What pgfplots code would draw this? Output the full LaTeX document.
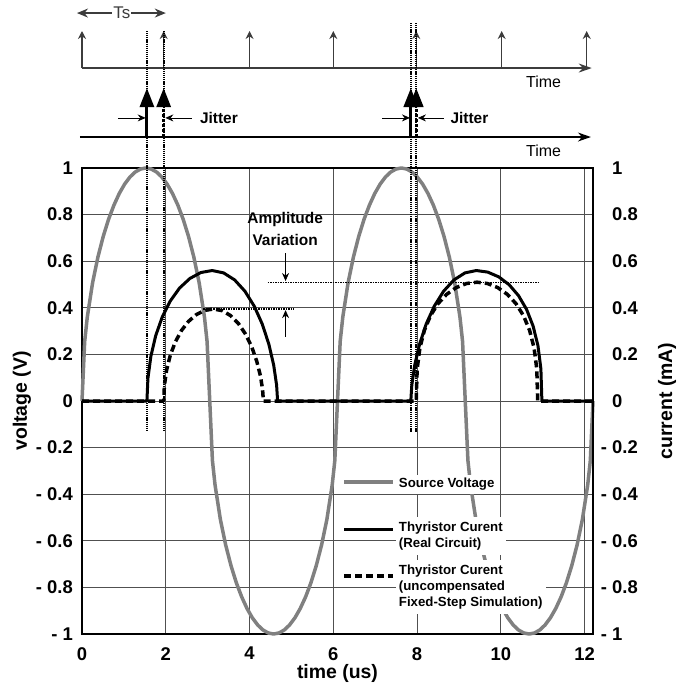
\documentclass[border=0pt]{standalone}
\usepackage{fontspec}
\setmainfont{Liberation Sans}
\usepackage{pgfplots}
\pgfplotsset{compat=1.18}
\usetikzlibrary{arrows.meta}
\definecolor{srcgray}{RGB}{128,128,128}
\definecolor{gridgray}{RGB}{80,80,80}
\definecolor{tlgray}{RGB}{60,60,60}
\newcommand\tickfont{\fontsize{18.5}{20}\selectfont\bfseries}
\newcommand\labfont{\fontsize{19.5}{22}\selectfont\bfseries}
\begin{document}
\begin{tikzpicture}
\begin{axis}[
  at={(82bp,-634bp)}, anchor=south west,
  scale only axis, width=511bp, height=466bp,
  xmin=0, xmax=12.2, ymin=-1, ymax=1,
  clip=false,
  axis line style={line width=1.2bp},
  xtick={0,2,4,6,8,10,12}, xticklabels={0,2,4,6,8,10,12},
  ytick={-1,-0.8,-0.6,-0.4,-0.2,0,0.2,0.4,0.6,0.8,1},
  yticklabels={- 1,- 0.8,- 0.6,- 0.4,- 0.2,0,0.2,0.4,0.6,0.8,1},
  major tick length=0pt,
  grid=major, grid style={line width=0.8bp, gridgray},
  ticklabel style={font=\tickfont},
  xticklabel style={anchor=north, inner sep=0pt, yshift=-13bp},
  yticklabel style={anchor=east, inner sep=0pt, xshift=-9bp},
  xlabel={time (us)}, ylabel={voltage (V)},
  label style={font=\labfont},
  xlabel style={at={(axis description cs:0.5,-0.0837)}, anchor=center},
  ylabel style={at={(axis description cs:-0.1174,0.5)}, anchor=center},
  legend image code/.code={\draw[#1] (0bp,0bp) -- (49bp,0bp);},
  legend style={at={(axis cs:6.214,-0.2468)}, anchor=north west, draw=none, fill=none,
    inner sep=0pt, row sep=0pt, column sep=1bp,
    font=\fontsize{13.3}{16}\selectfont\bfseries,
    nodes={minimum height=47bp, inner sep=0pt}, cells={anchor=west}},
]
% source voltage
\addplot[srcgray, line width=3.5bp, line join=round] coordinates {
(0,0) (0.064,0.2557) (0.127,0.3612) (0.254,0.5087) (0.381,0.6186) (0.508,0.7071) (0.635,0.7803) (0.763,0.8409) (0.890,0.8907) (1.017,0.9306) (1.144,0.9612) (1.271,0.9828) (1.398,0.9957) (1.525,1) (1.652,0.9957) (1.779,0.9828) (1.906,0.9612) (2.033,0.9306) (2.160,0.8907) (2.288,0.8409) (2.415,0.7803) (2.542,0.7071) (2.669,0.6186) (2.796,0.5087) (2.923,0.3612) (2.986,0.2557) (3.050,0)
(3.114,-0.2557) (3.177,-0.3612) (3.304,-0.5087) (3.431,-0.6186) (3.558,-0.7071) (3.685,-0.7803) (3.813,-0.8409) (3.940,-0.8907) (4.067,-0.9306) (4.194,-0.9612) (4.321,-0.9828) (4.448,-0.9957) (4.575,-1) (4.702,-0.9957) (4.829,-0.9828) (4.956,-0.9612) (5.083,-0.9306) (5.210,-0.8907) (5.338,-0.8409) (5.465,-0.7803) (5.592,-0.7071) (5.719,-0.6186) (5.846,-0.5087) (5.973,-0.3612) (6.036,-0.2557) (6.100,0)
(6.164,0.2557) (6.227,0.3612) (6.354,0.5087) (6.481,0.6186) (6.608,0.7071) (6.735,0.7803) (6.863,0.8409) (6.990,0.8907) (7.117,0.9306) (7.244,0.9612) (7.371,0.9828) (7.498,0.9957) (7.625,1) (7.752,0.9957) (7.879,0.9828) (8.006,0.9612) (8.133,0.9306) (8.260,0.8907) (8.388,0.8409) (8.515,0.7803) (8.642,0.7071) (8.769,0.6186) (8.896,0.5087) (9.023,0.3612) (9.086,0.2557) (9.150,0)
(9.214,-0.2557) (9.277,-0.3612) (9.404,-0.5087) (9.531,-0.6186) (9.658,-0.7071) (9.785,-0.7803) (9.913,-0.8409) (10.040,-0.8907) (10.167,-0.9306) (10.294,-0.9612) (10.421,-0.9828) (10.548,-0.9957) (10.675,-1) (10.802,-0.9957) (10.929,-0.9828) (11.056,-0.9612) (11.183,-0.9306) (11.310,-0.8907) (11.438,-0.8409) (11.565,-0.7803) (11.692,-0.7071) (11.819,-0.6186) (11.946,-0.5087) (12.073,-0.3612) (12.136,-0.2557) (12.200,0)};
\addlegendentry{\colorbox{white}{Source Voltage}}
% thyristor current, real circuit
\addplot[black, line width=3bp, line join=round] coordinates {
(0,0) (1.55,0) (1.574,0.0972) (1.644,0.1915) (1.759,0.28) (1.915,0.36) (2.107,0.429) (2.330,0.485) (2.577,0.526) (2.839,0.5515) (3.110,0.56) (3.381,0.5498) (3.644,0.5197) (3.890,0.4712) (4.113,0.4067) (4.305,0.3296) (4.461,0.2438) (4.576,0.1546) (4.646,0.0685) (4.670,0)
(7.850,0) (7.874,0.0685) (7.944,0.1546) (8.060,0.2438) (8.216,0.3296) (8.409,0.4067) (8.633,0.4712) (8.880,0.5197) (9.143,0.5498) (9.415,0.56) (9.687,0.5532) (9.950,0.5328) (10.198,0.4991) (10.421,0.4524) (10.614,0.3932) (10.770,0.3216) (10.886,0.2374) (10.956,0.138) (10.980,0) (12.2,0)};
\addlegendentry{\colorbox{white}{\begin{tabular}{@{}l@{}}Thyristor Curent\\(Real Circuit)\end{tabular}}}
% thyristor current, fixed-step simulation
\addplot[black, line width=3.5bp, dash pattern=on 7bp off 4bp, line join=round] coordinates {
(0,0) (1.95,0) (1.968,0.0686) (2.022,0.1351) (2.110,0.1975) (2.229,0.2539) (2.375,0.3026) (2.545,0.3421) (2.733,0.3712) (2.933,0.389) (3.140,0.395) (3.347,0.3878) (3.547,0.3666) (3.735,0.3324) (3.905,0.2868) (4.052,0.2325) (4.170,0.1719) (4.259,0.109) (4.312,0.0483) (4.330,0)
(7.980,0) (8.002,0.1372) (8.067,0.228) (8.174,0.3032) (8.319,0.3661) (8.498,0.4176) (8.705,0.4578) (8.934,0.4867) (9.178,0.5042) (9.430,0.51) (9.682,0.5042) (9.926,0.4867) (10.155,0.4578) (10.362,0.4176) (10.541,0.3661) (10.686,0.3032) (10.793,0.228) (10.858,0.1372) (10.880,0) (12.2,0)};
\addlegendentry{\colorbox{white}{\begin{tabular}{@{}l@{}}Thyristor Curent\\(uncompensated\\Fixed-Step Simulation)\end{tabular}}}

% ---- sample-time impulses (upper timeline)
\draw[tlgray, line width=1.3bp, -{Stealth[length=13bp,width=9bp]}] (axis cs:0,1.429) -- (axis cs:12.17,1.429);
\addplot[forget plot, tlgray, line width=1.4bp, -{Stealth[length=8bp,width=8bp]}, quiver={u=0,v=0.159}] coordinates {(0,1.429) (1.95,1.429) (4,1.429) (6,1.429) (7.98,1.429) (10.02,1.429) (12.05,1.429)};
\node[font=\fontsize{16}{18}\selectfont] at (axis cs:11.02,1.369) {Time};
% Ts
\draw[tlgray, line width=1.3bp, {Stealth[length=11bp,width=9bp]}-{Stealth[length=11bp,width=9bp]}] (axis cs:-0.12,1.665) -- (axis cs:2.0,1.665);
\node[fill=white, inner sep=1bp, font=\fontsize{17}{19}\selectfont, text=tlgray] at (axis cs:0.95,1.665) {Ts};

% ---- firing pulses (lower timeline)
\draw[black, line width=1.5bp, -{Stealth[length=13bp,width=9bp]}] (axis cs:-0.05,1.133) -- (axis cs:12.15,1.133);
\node[font=\fontsize{16}{18}\selectfont] at (axis cs:11.02,1.073) {Time};
\addplot[forget plot, black, line width=3bp, -{Triangle[length=19bp,width=14bp]}, quiver={u=0,v=0.21}] coordinates {(1.55,1.133) (7.85,1.133)};
\addplot[forget plot, black, line width=3bp, dash pattern=on 3bp off 2bp, -{Triangle[length=19bp,width=14bp]}, quiver={u=0,v=0.21}] coordinates {(1.95,1.133) (7.98,1.133)};

% dotted verticals
\addplot[forget plot, black, line width=2bp, dash pattern=on 1.2bp off 0.9bp] coordinates {(1.55,1.588) (1.55,-0.133)};
\addplot[forget plot, black, line width=2bp, dash pattern=on 1.2bp off 0.9bp] coordinates {(1.95,1.588) (1.95,-0.133)};
\addplot[forget plot, black, line width=2bp, dash pattern=on 1.2bp off 0.9bp] coordinates {(7.86,1.622) (7.86,-0.133)};
\addplot[forget plot, black, line width=2bp, dash pattern=on 1.2bp off 0.9bp] coordinates {(7.98,1.622) (7.98,-0.133)};

% jitter
\draw[line width=0.8bp, -{Stealth[length=8bp,width=7bp]}] (axis cs:0.857,1.215) -- (axis cs:1.52,1.215);
\draw[line width=0.8bp, -{Stealth[length=8bp,width=7bp]}] (axis cs:2.62,1.215) -- (axis cs:1.99,1.215);
\node[font=\fontsize{15.5}{17}\selectfont\bfseries] at (axis cs:3.27,1.215) {Jitter};
\draw[line width=0.8bp, -{Stealth[length=8bp,width=7bp]}] (axis cs:7.17,1.215) -- (axis cs:7.83,1.215);
\draw[line width=0.8bp, -{Stealth[length=8bp,width=7bp]}] (axis cs:8.64,1.215) -- (axis cs:8.02,1.215);
\node[font=\fontsize{15.5}{17}\selectfont\bfseries] at (axis cs:9.25,1.215) {Jitter};

% amplitude variation
\addplot[forget plot, black, line width=1.3bp, dash pattern=on 1.5bp off 1bp] coordinates {(4.43,0.51) (10.9,0.51)};
\addplot[forget plot, black, line width=1.3bp, dash pattern=on 1.5bp off 1bp] coordinates {(2.9,0.395) (5.07,0.395)};
\draw[line width=0.8bp, -{Stealth[length=8bp,width=7bp]}] (axis cs:4.86,0.635) -- (axis cs:4.86,0.515);
\draw[line width=0.8bp, -{Stealth[length=8bp,width=7bp]}] (axis cs:4.86,0.275) -- (axis cs:4.86,0.39);
\node[align=center, font=\fontsize{15.5}{22}\selectfont\bfseries] at (axis cs:4.85,0.74) {Amplitude\\Variation};
\end{axis}
\begin{axis}[
  at={(82bp,-634bp)}, anchor=south west,
  scale only axis, width=511bp, height=466bp,
  xmin=0, xmax=12.2, ymin=-1, ymax=1,
  axis x line=none, axis y line*=right,
  y axis line style={line width=1.2bp},
  ytick={-1,-0.8,-0.6,-0.4,-0.2,0,0.2,0.4,0.6,0.8,1},
  yticklabels={\llap{- }1,\llap{- }0.8,\llap{- }0.6,\llap{- }0.4,\llap{- }0.2,0,0.2,0.4,0.6,0.8,1},
  major tick length=0pt,
  yticklabel style={anchor=west, inner sep=0pt, xshift=19bp, font=\tickfont},
  ylabel={current (mA)},
  ylabel style={font=\labfont, at={(axis description cs:1.1448,0.5)}, anchor=center},
]
\end{axis}
\pgfresetboundingbox
\path[use as bounding box] (0bp,0bp) rectangle (694bp,-691bp);
\end{tikzpicture}
\end{document}
